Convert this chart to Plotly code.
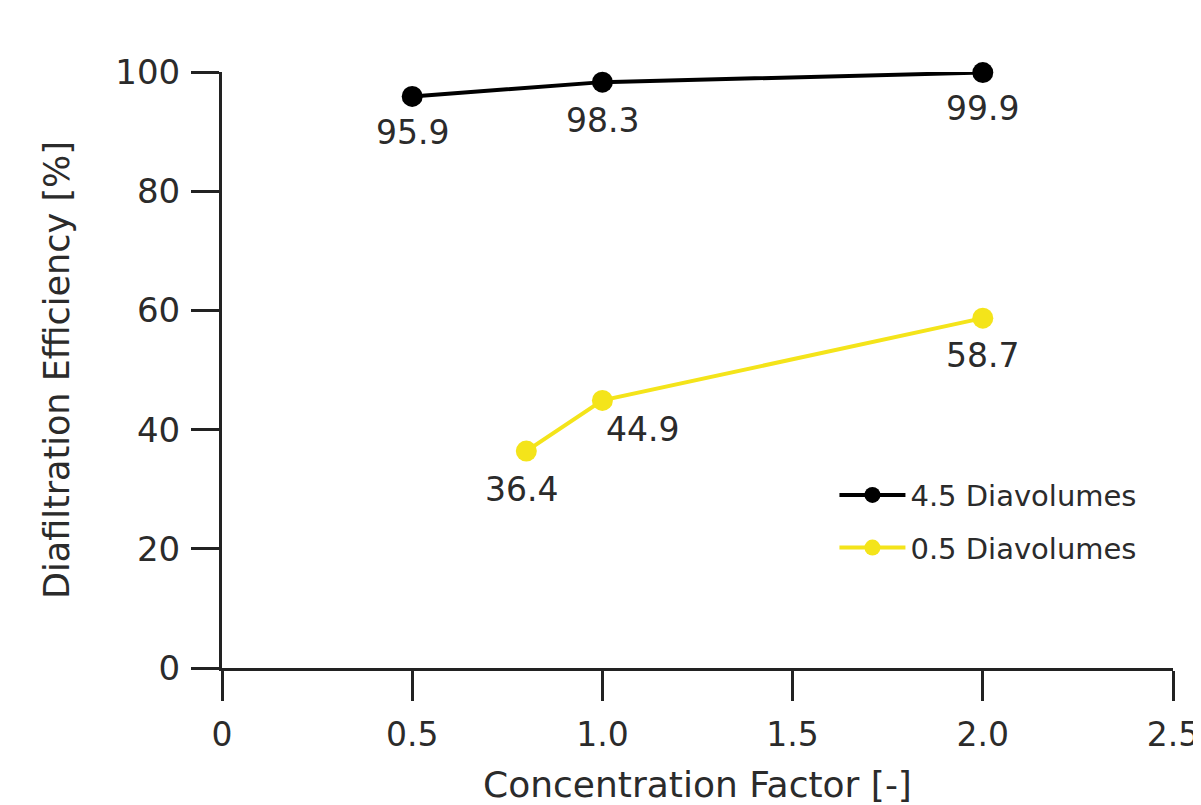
import plotly.graph_objects as go

# Data
x_45 = [0.5, 1.0, 2.0]
y_45 = [95.9, 98.3, 99.9]
x_05 = [0.8, 1.0, 2.0]
y_05 = [36.4, 44.9, 58.7]
name_45 = "4.5 Diavolumes"
name_05 = "0.5 Diavolumes"
x_ticks = [0, 0.5, 1.0, 1.5, 2.0, 2.5]
x_ticktext = ["0", "0.5", "1.0", "1.5", "2.0", "2.5"]
y_ticks = [0, 20, 40, 60, 80, 100]

FONT = "'DejaVu Sans', sans-serif"
TXT = "#2b2b2b"
AX = "#222222"
YEL = "#F4E41A"

fig = go.Figure()
fig.add_trace(go.Scatter(
    x=x_45, y=y_45, name=name_45, mode="lines+markers",
    legendgroup="a",
    line=dict(color="black", width=4),
    marker=dict(color="black", size=21),
    cliponaxis=False,
))
fig.add_trace(go.Scatter(
    x=x_05, y=y_05, name=name_05, mode="lines+markers",
    legendgroup="b",
    line=dict(color=YEL, width=4),
    marker=dict(color=YEL, size=21),
    cliponaxis=False,
))

# value labels (positioned through data coordinates)
label_shift_45 = [(0, -36), (0, -38), (0, -36)]
label_shift_05 = [(-5, -38), (40, -29), (0, -37)]
for xs, ys, shifts in ((x_45, y_45, label_shift_45), (x_05, y_05, label_shift_05)):
    for xv, yv, (dx, dy) in zip(xs, ys, shifts):
        fig.add_annotation(
            x=xv, y=yv, xref="x", yref="y", text=f"{yv:.1f}",
            showarrow=False, xshift=dx, yshift=dy,
            font=dict(size=33, color=TXT, family=FONT),
        )

fig.update_layout(
    width=1201, height=805,
    paper_bgcolor="white", plot_bgcolor="white",
    margin=dict(l=214, r=36, t=64, b=145),
    font=dict(family=FONT, color=TXT, size=33),
    showlegend=True,
    legend=dict(
        x=0.644, y=0.333, xanchor="left", yanchor="top",
        font=dict(size=29, color=TXT, family=FONT),
        itemwidth=66, tracegroupgap=12, traceorder="grouped",
        bgcolor="rgba(0,0,0,0)",
    ),
)
fig.update_xaxes(
    range=[0, 2.5], tickvals=x_ticks, ticktext=x_ticktext,
    showline=True, linecolor=AX, linewidth=3,
    ticks="outside", ticklen=30, tickwidth=3, tickcolor=AX,
    ticklabelstandoff=5,
    showgrid=False, zeroline=False,
    tickfont=dict(size=33, color=TXT, family=FONT),
    title=dict(text="Concentration Factor [-]", font=dict(size=36, color=TXT, family=FONT), standoff=20),
    automargin=False,
)
fig.update_yaxes(
    range=[0, 100], tickvals=y_ticks,
    showline=True, linecolor=AX, linewidth=3,
    ticks="outside", ticklen=28, tickwidth=3, tickcolor=AX,
    ticklabelstandoff=4,
    showgrid=False, zeroline=False,
    tickfont=dict(size=34, color=TXT, family=FONT),
    title=dict(text="Diafiltration Efficiency [%]", font=dict(size=35, color=TXT, family=FONT), standoff=36),
    automargin=False,
)

fig.write_html("out.html")
